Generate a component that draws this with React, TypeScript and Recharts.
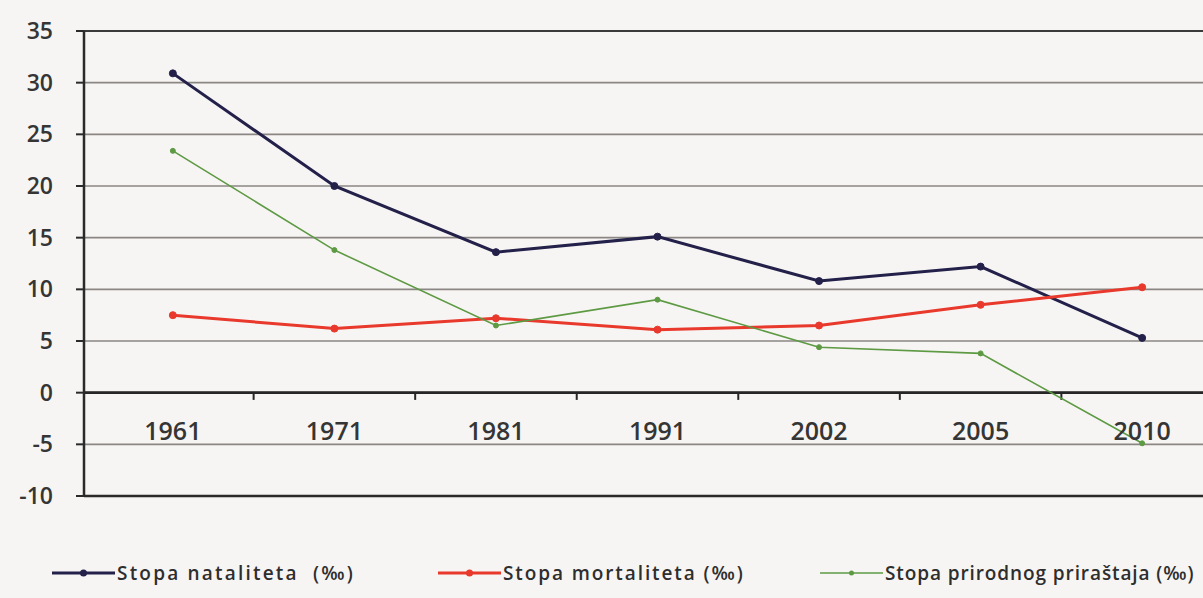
import { LineChart, Line, XAxis, YAxis, CartesianGrid, ReferenceLine } from "recharts";

const years = ["1961", "1971", "1981", "1991", "2002", "2005", "2010"];
const natalitet = [30.9, 20.0, 13.6, 15.1, 10.8, 12.2, 5.3];
const mortalitet = [7.5, 6.2, 7.2, 6.1, 6.5, 8.5, 10.2];
const prirastaj = [23.4, 13.8, 6.5, 9.0, 4.4, 3.8, -4.9];
const yTicks = [-10, -5, 0, 5, 10, 15, 20, 25, 30, 35];

const series = [
  { key: "nat", name: "Stopa nataliteta  (‰)", color: "#23204a", width: 3, r: 3.5, left: 52, spacing: 2.2 },
  { key: "mort", name: "Stopa mortaliteta (‰)", color: "#e8392c", width: 3, r: 3.5, left: 438, spacing: 1.9 },
  { key: "prir", name: "Stopa prirodnog priraštaja (‰)", color: "#5d9a43", width: 1.6, r: 2.5, left: 820, spacing: 0.9 },
];

const data = years.map((year, i) => ({
  i,
  year,
  nat: natalitet[i],
  mort: mortalitet[i],
  prir: prirastaj[i],
}));

const font = "'Open Sans', sans-serif";

function YearTick({ x, y, payload }: any) {
  return (
    <text x={x} y={y} dy={-56} textAnchor="middle" fontFamily={font} fontSize={25} fontWeight={600} fill="#353535">
      {years[payload.value]}
    </text>
  );
}

export default function App() {
  return (
    <div
      style={{
        position: "absolute",
        left: 0,
        top: 0,
        width: 1203,
        height: 598,
        overflow: "hidden",
        background: "#f7f5f3",
      }}
    >
      <LineChart
        width={1231}
        height={598}
        data={data}
        margin={{ top: 31, right: 0, left: 0, bottom: 72 }}
      >
        <CartesianGrid vertical={false} stroke="#8a8684" strokeWidth={1.6} />
        <XAxis
          type="number"
          dataKey="i"
          domain={[-0.55, 6.55]}
          ticks={years.map((_, i) => i)}
          tick={<YearTick />}
          tickLine={false}
          tickSize={0}
          tickMargin={0}
          height={30}
          axisLine={{ stroke: "#2a2a2a", strokeWidth: 2.5 }}
        />
        <YAxis
          domain={[-10, 35]}
          ticks={yTicks}
          width={84}
          tickSize={8}
          tickMargin={23}
          tickLine={{ stroke: "#2a2a2a", strokeWidth: 2 }}
          axisLine={{ stroke: "#2a2a2a", strokeWidth: 2.5 }}
          tick={{ fontFamily: font, fontSize: 23, fontWeight: 600, fill: "#353535" }}
          interval={0}
        />
        <ReferenceLine y={35} stroke="#3a3a3a" strokeWidth={2.2} />
        <ReferenceLine y={0} stroke="#262626" strokeWidth={2.8} />
        {years.slice(1).map((_, k) => (
          <ReferenceLine
            key={k}
            segment={[
              { x: k + 0.5, y: 0 },
              { x: k + 0.5, y: -0.7 },
            ]}
            stroke="#262626"
            strokeWidth={2}
          />
        ))}
        {series.map((s) => (
          <Line
            key={s.key}
            type="linear"
            dataKey={s.key}
            stroke={s.color}
            strokeWidth={s.width}
            dot={{ r: s.r, fill: s.color, stroke: s.color, strokeWidth: 1 }}
            isAnimationActive={false}
          />
        ))}
      </LineChart>
      {series.map((s) => (
        <div
          key={s.key}
          style={{
            position: "absolute",
            left: s.left,
            top: 562,
            height: 22,
            display: "flex",
            alignItems: "center",
            fontFamily: font,
            fontSize: 19,
            fontWeight: 600,
            letterSpacing: s.spacing,
            color: "#2e2e2e",
            whiteSpace: "pre",
          }}
        >
          <svg width={63} height={22} style={{ marginRight: 2 }}>
            <line x1={0} y1={11} x2={63} y2={11} stroke={s.color} strokeWidth={s.width} />
            <circle cx={31.5} cy={11} r={s.r} fill={s.color} />
          </svg>
          <span>{s.name}</span>
        </div>
      ))}
    </div>
  );
}
